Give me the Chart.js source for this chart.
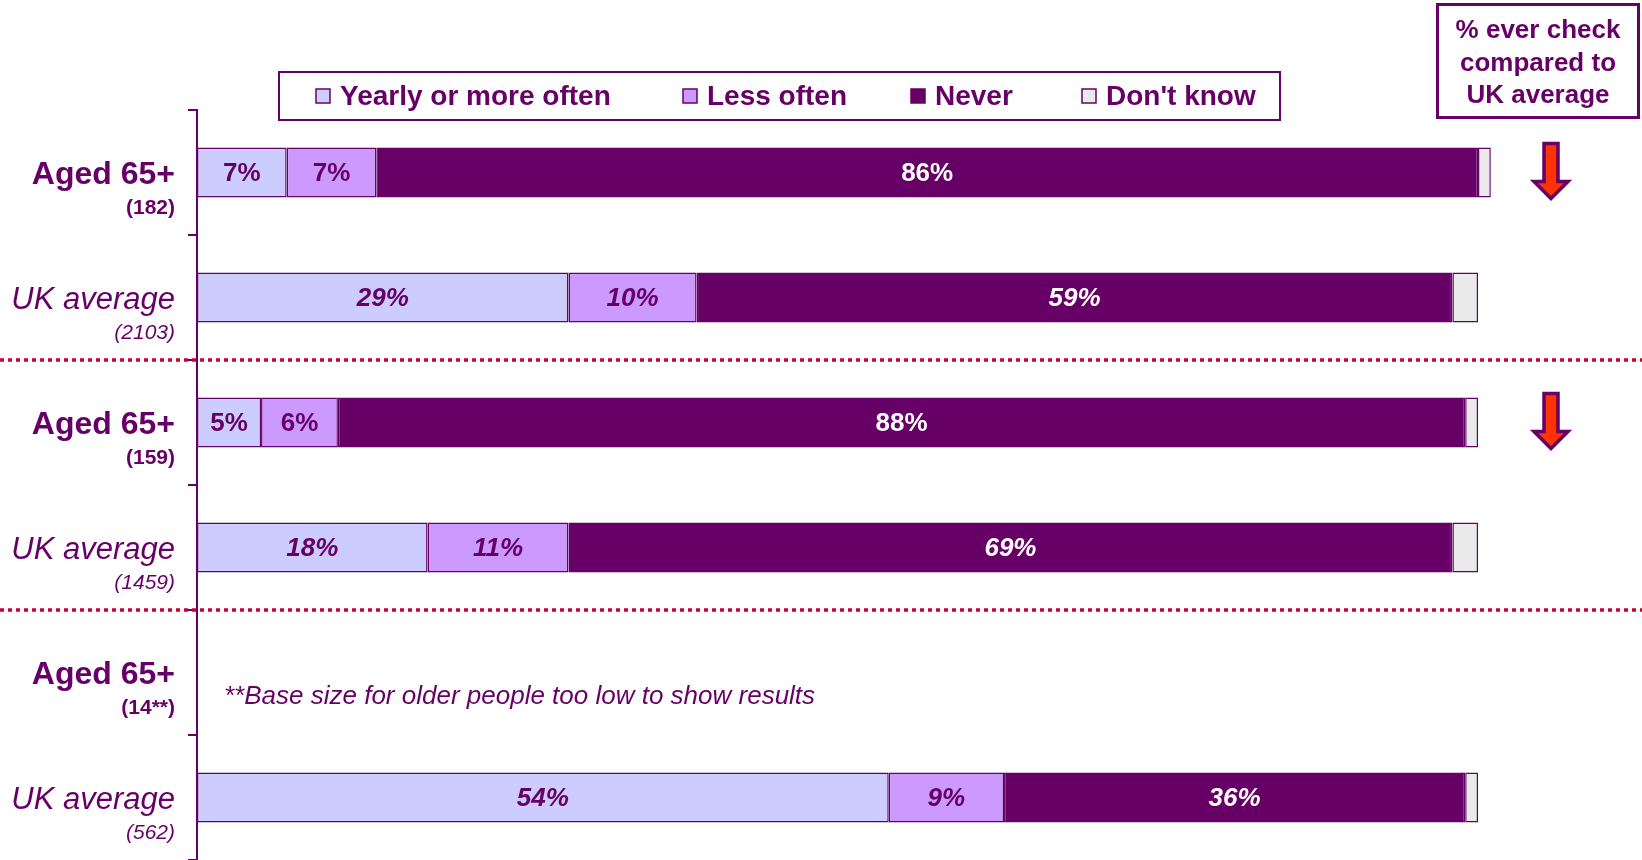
<!DOCTYPE html>
<html>
<head>
<meta charset="utf-8">
<script src="https://cdn.jsdelivr.net/npm/chart.js@4/dist/chart.umd.min.js"></script>
<style>
  html, body { margin: 0; padding: 0; background: #fff; overflow: hidden; }
  #wrap { width: 1642px; height: 860px; position: relative; }
</style>
</head>
<body>
<div id="wrap"><canvas id="checkChart"></canvas></div>
<script>
// rows, top to bottom
const categories = ['Aged 65+', 'UK average', 'Aged 65+', 'UK average', 'Aged 65+', 'UK average'];
const baseSizes = ['(182)', '(2103)', '(159)', '(1459)', '(14**)', '(562)'];

const seriesNames = ['Yearly or more often', 'Less often', 'Never', "Don't know"];
const yearly    = [7, 29, 5, 18, null, 54];
const lessOften = [7, 10, 6, 11, null, 9];
const never     = [86, 59, 88, 69, null, 36];
const dontKnow  = [1, 2, 1, 2, null, 1];

// rows where older people check less than the UK average
const belowAverage = [true, false, true, false, false, false];
const sectionEnds = [1, 3];
const footnote = '**Base size for older people too low to show results';
const noteRow = 4;

const PURPLE = '#660066';
const FONT = "'Liberation Sans', Arial, sans-serif";
const colors = ['#ccccff', '#cc99ff', '#660066', '#eaeaea'];

const overlay = {
    id: 'overlay',
    afterDatasetsDraw(chart) {
        const ctx = chart.ctx;
        ctx.save();
        ctx.textAlign = 'center';
        ctx.textBaseline = 'middle';
        chart.data.datasets.forEach((ds, di) => {
            if (di === 3) return;
            const meta = chart.getDatasetMeta(di);
            meta.data.forEach((bar, i) => {
                const v = ds.data[i];
                if (v == null) return;
                ctx.font = (i % 2 ? 'italic ' : '') + 'bold 26px ' + FONT;
                ctx.fillStyle = di === 2 ? '#ffffff' : PURPLE;
                ctx.fillText(v + '%', (bar.x + bar.base) / 2, bar.y + 1);
            });
        });
        ctx.restore();
    },
    afterDraw(chart) {
        const ctx = chart.ctx;
        const y = chart.scales.y;
        ctx.save();

        // row labels with base sizes
        ctx.textAlign = 'right';
        ctx.textBaseline = 'alphabetic';
        ctx.fillStyle = PURPLE;
        categories.forEach((name, i) => {
            const cy = y.getPixelForValue(i);
            const uk = i % 2 === 1;
            ctx.font = (uk ? 'italic 31px ' : 'bold 32px ') + FONT;
            ctx.fillText(name, 175, cy + 11);
            ctx.font = (uk ? 'italic 21px ' : 'bold 21px ') + FONT;
            ctx.fillText(baseSizes[i], 175, cy + 41);
        });

        // footnote in the empty row
        ctx.textAlign = 'left';
        ctx.font = 'italic 26px ' + FONT;
        ctx.fillText(footnote, 224, y.getPixelForValue(noteRow) + 31);

        // dotted section separators
        ctx.strokeStyle = '#cc0033';
        ctx.lineWidth = 3.5;
        ctx.setLineDash([4, 4]);
        sectionEnds.forEach(i => {
            const sy = (y.getPixelForValue(i) + y.getPixelForValue(i + 1)) / 2;
            ctx.beginPath();
            ctx.moveTo(0, sy);
            ctx.lineTo(chart.width, sy);
            ctx.stroke();
        });
        ctx.setLineDash([]);

        // legend box
        ctx.strokeStyle = PURPLE;
        ctx.lineWidth = 2;
        ctx.strokeRect(279, 72, 1001, 48);
        const legendX = [316, 683, 911, 1082];
        ctx.font = 'bold 28px ' + FONT;
        ctx.textBaseline = 'middle';
        chart.data.datasets.forEach((ds, i) => {
            ctx.fillStyle = ds.backgroundColor;
            ctx.fillRect(legendX[i], 89, 14, 14);
            ctx.lineWidth = 1.5;
            ctx.strokeRect(legendX[i], 89, 14, 14);
            ctx.fillStyle = PURPLE;
            ctx.fillText(ds.label, legendX[i] + 24, 97);
        });

        // comparison header box
        ctx.lineWidth = 3;
        ctx.strokeRect(1437.5, 4.5, 201, 113);
        ctx.textAlign = 'center';
        ctx.font = 'bold 26px ' + FONT;
        ['% ever check', 'compared to', 'UK average'].forEach((t, k) => {
            ctx.fillText(t, 1538, 31 + k * 32.5);
        });

        // down arrows
        belowAverage.forEach((flag, i) => {
            if (!flag) return;
            const cx = 1551, cy = y.getPixelForValue(i) - 2;
            ctx.beginPath();
            ctx.moveTo(cx - 7, cy - 27);
            ctx.lineTo(cx + 7, cy - 27);
            ctx.lineTo(cx + 7, cy + 11);
            ctx.lineTo(cx + 17, cy + 11);
            ctx.lineTo(cx, cy + 28);
            ctx.lineTo(cx - 17, cy + 11);
            ctx.lineTo(cx - 7, cy + 11);
            ctx.closePath();
            ctx.fillStyle = '#ff3300';
            ctx.fill();
            ctx.strokeStyle = PURPLE;
            ctx.lineWidth = 3.5;
            ctx.stroke();
        });

        ctx.restore();
    }
};

const seriesData = [yearly, lessOften, never, dontKnow];

new Chart(document.getElementById('checkChart'), {
    type: 'bar',
    data: {
        labels: categories,
        datasets: seriesData.map((d, i) => ({
            label: seriesNames[i],
            data: d,
            backgroundColor: colors[i],
            borderColor: PURPLE,
            borderWidth: 1.5,
            borderSkipped: false,
            barPercentage: 0.4,
            categoryPercentage: 1,
            clip: false
        }))
    },
    options: {
        indexAxis: 'y',
        responsive: true,
        maintainAspectRatio: false,
        devicePixelRatio: 1,
        animation: false,
        layout: { padding: { left: 188, right: 164, top: 110, bottom: 0 } },
        plugins: {
            legend: { display: false },
            tooltip: { enabled: false }
        },
        scales: {
            x: { stacked: true, min: 0, max: 100, display: false },
            y: {
                stacked: true,
                offset: true,
                ticks: { display: false },
                grid: {
                    offset: true,
                    drawOnChartArea: false,
                    drawTicks: true,
                    tickLength: 9,
                    color: PURPLE,
                    lineWidth: 2
                },
                border: { display: true, color: PURPLE, width: 2 }
            }
        }
    },
    plugins: [overlay]
});
</script>
</body>
</html>
